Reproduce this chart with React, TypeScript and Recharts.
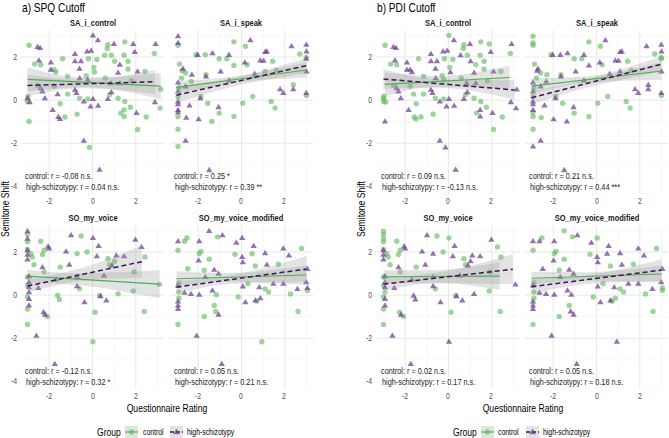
import React from 'react';
import { ComposedChart, Scatter, Line, Area, XAxis, YAxis, CartesianGrid } from 'recharts';

// each point: [rating, semitone shift, SPQ group, PDI group]  (0 = control, 1 = high-schizotypy)
type P = [number, number, number, number];

const xTicks = [-2, 0, 2];
const yTicks = [-4, -2, 0, 2];
const xMinor = [-3, -1, 1, 3];
const yMinor = [-3, -1, 1, 3];

const cutoffTitles = ['a) SPQ Cutoff', 'b) PDI Cutoff'];
const panelNames = ['SA_i_control', 'SA_i_speak', 'SO_my_voice', 'SO_my_voice_modified'];
const groupNames = ['control', 'high-schizotypy'];

const saControlPts: P[] = [
  [-2.93, 2.54, 0, 0], [0.71, 2.57, 0, 0], [1.49, 2.7, 0, 0], [0.68, 2.39, 0, 0], [0.56, 2.08, 0, 1], [0.87, 2.08, 0, 0],
  [1.46, 2.08, 0, 0], [2.85, 2.16, 0, 0], [-1.38, 1.92, 0, 0], [-0.19, 1.92, 0, 0], [-2.67, 1.67, 0, 0], [-2.39, 1.64, 0, 0],
  [0.2, 1.88, 0, 0], [1.02, 1.8, 0, 1], [1.64, 1.8, 0, 0], [0.06, 1.52, 0, 0], [-1.77, 1.41, 0, 1], [-1.69, 1.3, 0, 1],
  [1.64, 1.44, 0, 0], [2.42, 1.33, 0, 0], [0.09, 1.3, 0, 1], [-1.15, 1.1, 0, 0], [-0.29, 1.13, 0, 0], [0.59, 1.02, 0, 0],
  [1.8, 0.9, 0, 0], [-2.54, 0.68, 0, 0], [3.15, 0.5, 0, 1], [-1.77, 0.64, 0, 0], [-1.15, 0.28, 0, 0], [-0.6, 0.09, 0, 0],
  [-2.98, 0.17, 0, 0], [-0.22, 0.05, 0, 0], [0.79, 0.25, 0, 0], [1.18, 0.09, 0, 0], [-3, -0.06, 0, 0], [-1.49, -0.17, 0, 0],
  [1.49, -0.06, 0, 0], [1.46, -0.45, 0, 1], [1.75, -0.33, 0, 0], [3.12, -0.37, 0, 1], [1.3, -0.6, 0, 0], [-0.71, -0.65, 0, 0],
  [-1.27, -0.78, 0, 0], [1.46, -0.76, 0, 1], [2.48, -0.78, 0, 0], [-2.93, -0.99, 0, 1], [2.08, -1.36, 0, 0], [-0.14, -2.19, 0, 1],
  [0.02, 3, 1, 0], [0.25, 2.78, 1, 1], [-2.54, 2.47, 1, 1], [-2.42, 2.42, 1, 1], [0.99, 2.6, 1, 1], [1.88, 2.6, 1, 0],
  [2.91, 2.6, 1, 1], [-0.25, 2.26, 1, 1], [-0.06, 2.29, 1, 1], [-0.81, 2.14, 1, 1], [1.95, 2.23, 1, 1], [-2.47, 1.84, 1, 1],
  [-1.92, 1.75, 1, 1], [-0.81, 1.8, 1, 1], [-0.53, 1.8, 1, 1], [1.26, 1.64, 1, 0], [-0.6, 1.46, 1, 1], [-1.92, 1.41, 1, 1],
  [2.08, 1.33, 1, 1], [1.18, 1.27, 1, 1], [-0.22, 0.95, 1, 0], [-0.59, 1.02, 1, 1], [1.26, 0.79, 1, 1], [0.84, 0.79, 1, 1],
  [-2.39, 0.56, 1, 1], [-2.31, 0.4, 1, 1], [-0.81, 0.48, 1, 1], [-0.74, 0.33, 1, 1], [-1.61, 0.28, 1, 0], [-3, 0.09, 1, 0],
  [-2.2, 0.09, 1, 1], [0.02, 0.06, 1, 1], [0.71, 0.06, 1, 1], [0.87, 0.37, 1, 1], [2.88, -0.09, 1, 1], [-2.9, -0.09, 1, 0],
  [-0.4, -0.06, 1, 1], [-0.09, -0.29, 1, 1], [0.26, -0.26, 1, 1], [-1.84, -0.45, 1, 1], [2.03, -0.59, 1, 1], [-1.58, -0.78, 1, 0],
  [-1.5, -0.87, 1, 0], [-0.4, -1.88, 1, 1], [0.33, -3.22, 1, 1],
];

const saSpeakPts: P[] = [
  [-2.93, 2.96, 1, 0], [-2.93, 2.65, 1, 0], [0.41, 2.78, 1, 1], [2.31, 2.5, 1, 1], [2.99, 2.57, 1, 1], [3, 2.26, 1, 1],
  [-2.02, 2.1, 1, 1], [-1.34, 2.18, 1, 1], [-0.58, 2.1, 1, 1], [1.09, 2.23, 1, 1], [1.17, 2.26, 1, 1], [0.87, 1.84, 1, 1],
  [1.02, 1.83, 1, 1], [0.15, 1.75, 1, 1], [2.99, 1.92, 1, 0], [-2.7, 1.46, 1, 1], [-2.29, 1.18, 1, 0], [-1.64, 1.1, 1, 1],
  [-2.93, 0.82, 1, 1], [-0.58, 0.91, 1, 1], [-0.96, 1.33, 1, 1], [0.61, 1.22, 1, 1], [-2.93, 0.4, 1, 1], [-2.58, 0.64, 1, 1],
  [-1.9, 0.09, 1, 1], [1.78, 0.51, 1, 1], [1.93, 0.33, 1, 1], [2.39, 0.51, 1, 1], [2.99, 0.33, 1, 1], [3, 1.33, 1, 1],
  [-2.93, -0.06, 1, 1], [-2.93, -0.45, 1, 1], [-2.93, -0.56, 1, 0], [-2.93, -0.19, 1, 1], [-2.4, -0.25, 1, 1], [-1.06, -0.33, 1, 1],
  [-2.55, -0.81, 1, 0], [-1.98, -0.88, 1, 1], [-2.58, -1.88, 1, 1], [-1.49, -3.24, 1, 1],
  [-2.93, 2.54, 0, 0], [-0.35, 2.7, 0, 0], [0.18, 2.5, 0, 0], [-2.1, 2.1, 0, 0], [-1.67, 2.1, 0, 1], [-1.03, 1.92, 0, 0],
  [-0.68, 1.92, 0, 0], [-2.86, 1.67, 0, 0], [-0.35, 1.61, 0, 1], [0.26, 1.64, 0, 0], [1.44, 1.8, 0, 0], [2.69, 2.14, 0, 0],
  [2.99, 1.98, 0, 0], [-2.74, 1.36, 0, 1], [-2.58, 1.26, 0, 0], [-2.77, 1.02, 0, 0], [-2.32, 0.87, 0, 1], [-1.64, 1.18, 0, 0],
  [1.09, 1.33, 0, 1], [1.61, 1.38, 0, 0], [-2.89, 0.56, 0, 0], [-1.56, -0.14, 0, 0], [-1.03, -0.6, 0, 0], [-1.37, -0.99, 0, 1],
  [-0.35, -0.76, 0, 0], [0.06, -0.14, 0, 0], [0.52, 0.17, 0, 0], [1.37, -0.06, 0, 0], [1.55, -0.37, 0, 0], [2.39, 0.71, 0, 1],
  [3, 0.22, 0, 0], [-2.93, -0.76, 0, 0], [-2.93, -1.35, 0, 0], [-2.93, -2.15, 0, 1], [-1.87, 0.17, 0, 0], [-2.93, 0.17, 0, 0],
];

const soVoicePts: P[] = [
  [-3, 2.96, 1, 0], [-3, 2.62, 1, 0], [-0.99, 2.78, 1, 1], [0.02, 2.65, 1, 0], [1.98, 2.57, 1, 1], [2.26, 2.23, 1, 0],
  [-2.05, 2.26, 1, 1], [-2, 2.16, 1, 1], [-1.22, 2.03, 1, 1], [0.28, 2.28, 1, 1], [-3, 2.08, 1, 1], [-3, 1.88, 1, 1],
  [-3, 1.66, 1, 1], [-2.31, 1.3, 1, 1], [-1.07, 1.41, 1, 1], [0.2, 1.8, 1, 1], [1.1, 1.84, 1, 1], [1.46, 1.8, 1, 1],
  [0.9, 1.38, 1, 1], [0.53, 0.91, 1, 1], [-2.93, 0.88, 1, 1], [-2.93, 0.6, 1, 1], [-2.93, 0.37, 1, 1], [-2.93, 0.14, 1, 0],
  [-2.93, -0.17, 1, 1], [-2.93, -0.48, 1, 1], [-1.69, 0.73, 1, 1], [-0.71, 0.84, 1, 1], [-0.71, 0.42, 1, 1], [-0.37, -0.33, 1, 1],
  [0.37, -0.05, 1, 1], [0.64, -0.25, 1, 1], [-2.5, 0.33, 1, 1], [-2.26, -0.79, 1, 0], [-2.19, -0.9, 1, 1], [-2.59, -1.88, 1, 1],
  [-1.74, -3.19, 1, 1],
  [-3, 2.81, 0, 0], [-3, 2.47, 0, 0], [-3, 2.12, 0, 0], [-2.85, 1.92, 0, 0], [-2.78, 1.77, 0, 0], [-2.39, 2.5, 0, 0],
  [-2.23, 2.08, 0, 0], [-2.31, 1.88, 0, 0], [-0.53, 2.74, 0, 0], [-0.71, 1.92, 0, 1], [-0.25, 2, 0, 0], [-2.7, 1.41, 0, 0],
  [-2.23, 1.07, 0, 0], [-1.49, 1.3, 0, 0], [0.71, 1.69, 0, 0], [1.02, 1.57, 0, 1], [0.79, 1.41, 0, 0], [1.92, 1.07, 0, 0],
  [2.42, 1.77, 0, 0], [-3, 0.84, 0, 0], [-3, 0.45, 0, 0], [-3, -0.09, 0, 0], [-3, -0.64, 0, 0], [-1.61, -0.02, 0, 1],
  [-1.53, -0.2, 0, 1], [-2.08, -0.99, 0, 0], [-0.6, 0.29, 0, 0], [0.12, -0.79, 0, 0], [0.33, -0.02, 0, 0], [1.18, 0.06, 0, 1],
  [1.88, 0.19, 0, 0], [2.39, -0.76, 0, 0], [3.09, 0.5, 0, 1], [-3, -1.36, 0, 0], [0.02, -2.16, 0, 1],
];

const soModifiedPts: P[] = [
  [-1.49, 2.98, 1, 0], [-0.88, 2.78, 1, 1], [-2.93, 2.5, 1, 1], [-1.95, 2.5, 1, 1], [-0.24, 2.43, 1, 1], [0.56, 2.28, 1, 1],
  [0.03, 2.65, 1, 0], [1.93, 2.16, 1, 1], [0.03, 1.77, 1, 1], [0.06, 1.53, 1, 1], [1.09, 1.95, 1, 1], [-1.98, 1.61, 1, 1],
  [-1.26, 1.18, 1, 1], [-1.06, 0.99, 1, 1], [1.17, 1.41, 1, 1], [2.19, 1.84, 1, 1], [3.04, 1.22, 1, 1], [-1.67, 0.84, 1, 1],
  [-2.93, 0.45, 1, 1], [-2.93, -0.48, 1, 1], [-2.93, -0.29, 1, 1], [-2.93, -0.64, 1, 1], [-2.63, 0.11, 1, 1], [-2.33, 0.06, 1, 1],
  [-1.95, 0.02, 1, 1], [-1.34, 0.22, 1, 1], [0.06, 0.4, 1, 1], [0.82, 0.37, 1, 1], [1.47, 0.53, 1, 1], [1.93, 0.53, 1, 1],
  [2.58, 0.29, 1, 1], [2.99, 0.6, 1, 1], [3.04, 0.33, 1, 0], [0.18, -0.33, 1, 1], [0.64, -0.25, 1, 1], [0.87, -0.14, 1, 0],
  [-1.06, -0.9, 1, 1], [-2.07, -1.88, 1, 1], [-0.91, -3.19, 1, 1],
  [-2.93, 2.08, 0, 0], [-2.63, 2.5, 0, 1], [-2.52, 2.65, 0, 0], [-1.11, 2.7, 0, 0], [-1.95, 1.92, 0, 0], [-1.87, 2.03, 0, 0],
  [-1.49, 1.66, 0, 0], [-0.3, 1.89, 0, 0], [0.49, 1.92, 0, 1], [2.77, 2.16, 0, 0], [1.7, 1.43, 0, 0], [0.64, 1.35, 0, 0],
  [-2.48, 1.22, 0, 1], [-1.72, 1.15, 0, 0], [-2.89, 0.56, 0, 0], [-2.89, 0.14, 0, 0], [-2.89, -0.14, 0, 0], [-2.93, -1.36, 0, 0],
  [-1.16, 0.02, 0, 1], [-0.15, -0.09, 0, 0], [0.3, 0.53, 0, 0], [1.09, 0.29, 0, 0], [1.25, 0.14, 0, 0], [2.26, 0.05, 0, 0],
  [3.04, 0.22, 0, 0], [2.61, -0.76, 0, 0], [-1.26, -0.48, 0, 0], [-1.19, -0.76, 0, 1], [-1.72, -0.99, 0, 0], [0.71, -0.28, 0, 0],
  [0.94, -2.16, 0, 1],
];

const panelPoints = [saControlPts, saSpeakPts, soVoicePts, soModifiedPts];

// fitted lines: [x start, y start, x end, y end]
const spqCtrlLine = [[-3, 0.96, 3.15, 0.65], [-3, 0.59, 3, 1.4], [-3, 0.88, 3.1, 0.51], [-3, 0.76, 3, 0.93]];
const spqHighLine = [[-3, 0.68, 2.9, 0.85], [-3, 0.23, 3, 1.6], [-3, 0.42, 2.28, 1.55], [-3, 0.37, 3, 1.21]];
const pdiCtrlLine = [[-2.94, 0.73, 2.82, 1.05], [-3, 0.65, 3, 1.35], [-3, 0.85, 2.36, 0.88], [-3, 0.78, 3, 0.98]];
const pdiHighLine = [[-3, 0.98, 3.05, 0.47], [-3, 0.11, 3, 1.67], [-3, 0.51, 2.97, 1.2], [-3, 0.39, 3, 1.16]];

// half width of the grey band at the left end, middle, right end
const spqCtrlBand = [[0.55, 0.22, 0.6], [0.3, 0.15, 0.35], [0.3, 0.28, 0.65], [0.35, 0.2, 0.45]];
const spqHighBand = [[0.5, 0.2, 0.55], [0.35, 0.2, 0.35], [0.3, 0.3, 0.75], [0.3, 0.2, 0.6]];
const pdiCtrlBand = [[0.55, 0.25, 0.55], [0.35, 0.15, 0.4], [0.3, 0.3, 0.65], [0.3, 0.2, 0.4]];
const pdiHighBand = [[0.45, 0.2, 0.45], [0.3, 0.2, 0.35], [0.3, 0.25, 0.7], [0.35, 0.2, 0.5]];
const bandMidX = -0.5;

const spqCtrlLabels = ['control: r = -0.08 n.s.', 'control: r = 0.25 *', 'control: r = -0.12 n.s.', 'control: r = 0.05 n.s.'];
const spqHighLabels = ['high-schizotypy: r = 0.04 n.s.', 'high-schizotypy: r = 0.39 **', 'high-schizotypy: r = 0.32 *', 'high-schizotypy: r = 0.21 n.s.'];
const pdiCtrlLabels = ['control: r = 0.09 n.s.', 'control: r = 0.21 n.s.', 'control: r = 0.02 n.s.', 'control: r = 0.05 n.s.'];
const pdiHighLabels = ['high-schizotypy: r = -0.13 n.s.', 'high-schizotypy: r = 0.44 ***', 'high-schizotypy: r = 0.17 n.s.', 'high-schizotypy: r = 0.18 n.s.'];

const GREEN = '#5cb85c';
const GREEN_LINE = '#4caf50';
const PURPLE = '#6b3d8e';
const PURPLE_LINE = '#3a1854';

const PW = 143;
const PH = 164;
const X_DOMAIN: [number, number] = [-3.3, 3.3];
const Y_DOMAIN: [number, number] = [-4.35, 3.25];
const SX = 0.78;
const FONT = '"Liberation Sans", Arial, sans-serif';

const groupLeft = [0, 355.5];
const colLeft = [21, 169.5];
const rowTop = [30, 225];

const Dot = (p: any) => <circle cx={p.cx} cy={p.cy} r={2.7} fill={GREEN} fillOpacity={0.6} />;
const Tri = (p: any) => {
  const s = 3.2;
  return (
    <polygon
      points={`${p.cx},${p.cy - s} ${p.cx - s},${p.cy + s * 0.65} ${p.cx + s},${p.cy + s * 0.65}`}
      fill={PURPLE}
      fillOpacity={0.72}
    />
  );
};

type TxProps = {
  x: number;
  y: number;
  size?: number;
  anchor?: 'start' | 'middle' | 'end';
  bold?: boolean;
  color?: string;
  rotate?: boolean;
  children: React.ReactNode;
};

const Tx = ({ x, y, size = 8.8, anchor = 'start', bold, color = '#4d4d4d', rotate, children }: TxProps) => {
  const tx = anchor === 'start' ? '0' : anchor === 'middle' ? '-50%' : '-100%';
  const origin = anchor === 'start' ? 'left center' : anchor === 'middle' ? 'center' : 'right center';
  return (
    <div
      style={{
        position: 'absolute',
        left: x,
        top: y,
        fontSize: size,
        fontWeight: bold ? 700 : 400,
        color,
        whiteSpace: 'nowrap',
        lineHeight: 1,
        transform: rotate
          ? `translate(-50%,-50%) rotate(-90deg) scaleX(${SX})`
          : `translate(${tx},-50%) scaleX(${SX})`,
        transformOrigin: rotate ? 'center' : origin,
      }}
    >
      {children}
    </div>
  );
};

const lineAt = (l: number[], x: number) => l[1] + ((l[3] - l[1]) * (x - l[0])) / (l[2] - l[0]);

const lineData = (l: number[]) => [
  { x: l[0], y: l[1] },
  { x: l[2], y: l[3] },
];

const bandData = (l: number[], h: number[]) =>
  [l[0], bandMidX, l[2]].map((x, i) => ({ x, band: [lineAt(l, x) - h[i], lineAt(l, x) + h[i]] }));

type PanelProps = {
  pts: P[];
  gi: number;
  ctrl: number[];
  high: number[];
  ctrlBand: number[];
  highBand: number[];
};

const Panel = ({ pts, gi, ctrl, high, ctrlBand, highBand }: PanelProps) => {
  const ctrlPts = pts.filter((p) => p[gi] === 0).map((p) => ({ x: p[0], y: p[1] }));
  const highPts = pts.filter((p) => p[gi] === 1).map((p) => ({ x: p[0], y: p[1] }));
  return (
    <ComposedChart width={PW} height={PH} margin={{ top: 0, right: 0, bottom: 0, left: 0 }}>
      <CartesianGrid verticalValues={xMinor} horizontalValues={yMinor} stroke="#f2f2f2" strokeWidth={0.6} />
      <CartesianGrid verticalValues={xTicks} horizontalValues={yTicks} stroke="#e8e8e8" strokeWidth={1} />
      <XAxis type="number" dataKey="x" domain={X_DOMAIN} hide allowDataOverflow />
      <YAxis type="number" dataKey="y" domain={Y_DOMAIN} hide allowDataOverflow />
      <Scatter data={ctrlPts} shape={Dot} isAnimationActive={false} />
      <Scatter data={highPts} shape={Tri} isAnimationActive={false} />
      <Area
        data={bandData(ctrl, ctrlBand)}
        dataKey="band"
        type="monotone"
        stroke="none"
        fill="#999999"
        fillOpacity={0.28}
        isAnimationActive={false}
        zIndex={700}
      />
      <Area
        data={bandData(high, highBand)}
        dataKey="band"
        type="monotone"
        stroke="none"
        fill="#999999"
        fillOpacity={0.28}
        isAnimationActive={false}
        zIndex={700}
      />
      <Line
        data={lineData(ctrl)}
        dataKey="y"
        stroke={GREEN_LINE}
        strokeWidth={1.1}
        dot={false}
        isAnimationActive={false}
        zIndex={800}
      />
      <Line
        data={lineData(high)}
        dataKey="y"
        stroke={PURPLE_LINE}
        strokeWidth={1.5}
        strokeDasharray="5 3"
        dot={false}
        isAnimationActive={false}
        zIndex={800}
      />
    </ComposedChart>
  );
};

const yPx = (top: number, v: number) => top + ((Y_DOMAIN[1] - v) / (Y_DOMAIN[1] - Y_DOMAIN[0])) * PH;
const xPx = (left: number, v: number) => left + ((v - X_DOMAIN[0]) / (X_DOMAIN[1] - X_DOMAIN[0])) * PW;

const LegendKey = ({ x, high }: { x: number; high: boolean }) => (
  <svg style={{ position: 'absolute', left: x, top: 426 }} width={13} height={12}>
    <rect x={0} y={0} width={13} height={12} fill="#999999" fillOpacity={0.28} />
    <line
      x1={0}
      y1={6}
      x2={13}
      y2={6}
      stroke={high ? PURPLE_LINE : GREEN_LINE}
      strokeWidth={high ? 1.5 : 1.1}
      strokeDasharray={high ? '4 2' : undefined}
    />
    {high ? (
      <polygon points="6.5,2.6 3.1,8.2 9.9,8.2" fill={PURPLE} fillOpacity={0.72} />
    ) : (
      <circle cx={6.5} cy={6} r={2.7} fill={GREEN} fillOpacity={0.6} />
    )}
  </svg>
);

export default function App() {
  return (
    <div
      style={{
        position: 'absolute',
        left: 0,
        top: 0,
        width: 669,
        height: 438,
        background: '#ffffff',
        fontFamily: FONT,
        overflow: 'hidden',
      }}
    >
      {groupLeft.map((ox, gi) => {
        const ctrlLines = gi === 0 ? spqCtrlLine : pdiCtrlLine;
        const highLines = gi === 0 ? spqHighLine : pdiHighLine;
        const ctrlBands = gi === 0 ? spqCtrlBand : pdiCtrlBand;
        const highBands = gi === 0 ? spqHighBand : pdiHighBand;
        const ctrlLabels = gi === 0 ? spqCtrlLabels : pdiCtrlLabels;
        const highLabels = gi === 0 ? spqHighLabels : pdiHighLabels;
        return (
          <React.Fragment key={gi}>
            <Tx x={ox + 21.5} y={7} size={13} color="#000">
              {cutoffTitles[gi]}
            </Tx>
            <Tx x={ox + 5} y={209} size={11} color="#000" rotate>
              Semitone Shift
            </Tx>
            <Tx x={ox + 167} y={408} size={11} anchor="middle" color="#000">
              Questionnaire Rating
            </Tx>
            {rowTop.map((rt) =>
              yTicks.map((v) => (
                <Tx key={`y${rt}${v}`} x={ox + 16.5} y={yPx(rt, v)} anchor="end">
                  {v}
                </Tx>
              ))
            )}
            {panelNames.map((name, pi) => {
              const left = ox + colLeft[pi % 2];
              const top = rowTop[Math.floor(pi / 2)];
              return (
                <React.Fragment key={name}>
                  <Tx x={left + PW / 2} y={top - 7} anchor="middle" bold color="#1a1a1a" size={9.6}>
                    {name}
                  </Tx>
                  <div style={{ position: 'absolute', left, top }}>
                    <Panel
                      pts={panelPoints[pi]}
                      gi={gi + 2}
                      ctrl={ctrlLines[pi]}
                      high={highLines[pi]}
                      ctrlBand={ctrlBands[pi]}
                      highBand={highBands[pi]}
                    />
                  </div>
                  {xTicks.map((v) => (
                    <Tx key={`x${v}`} x={xPx(left, v)} y={top + PH + 7} anchor="middle">
                      {v}
                    </Tx>
                  ))}
                  <Tx x={left + 4} y={top + 146} size={9.4} color="#222">
                    {ctrlLabels[pi]}
                  </Tx>
                  <Tx x={left + 5} y={top + 156.5} size={9.4} color="#222">
                    {highLabels[pi]}
                  </Tx>
                </React.Fragment>
              );
            })}
            <Tx x={ox + 97} y={432} size={11} color="#000">
              Group
            </Tx>
            <LegendKey x={ox + 125} high={false} />
            <Tx x={ox + 142.5} y={432} color="#000">
              {groupNames[0]}
            </Tx>
            <LegendKey x={ox + 170} high />
            <Tx x={ox + 187} y={432} color="#000">
              {groupNames[1]}
            </Tx>
          </React.Fragment>
        );
      })}
    </div>
  );
}
